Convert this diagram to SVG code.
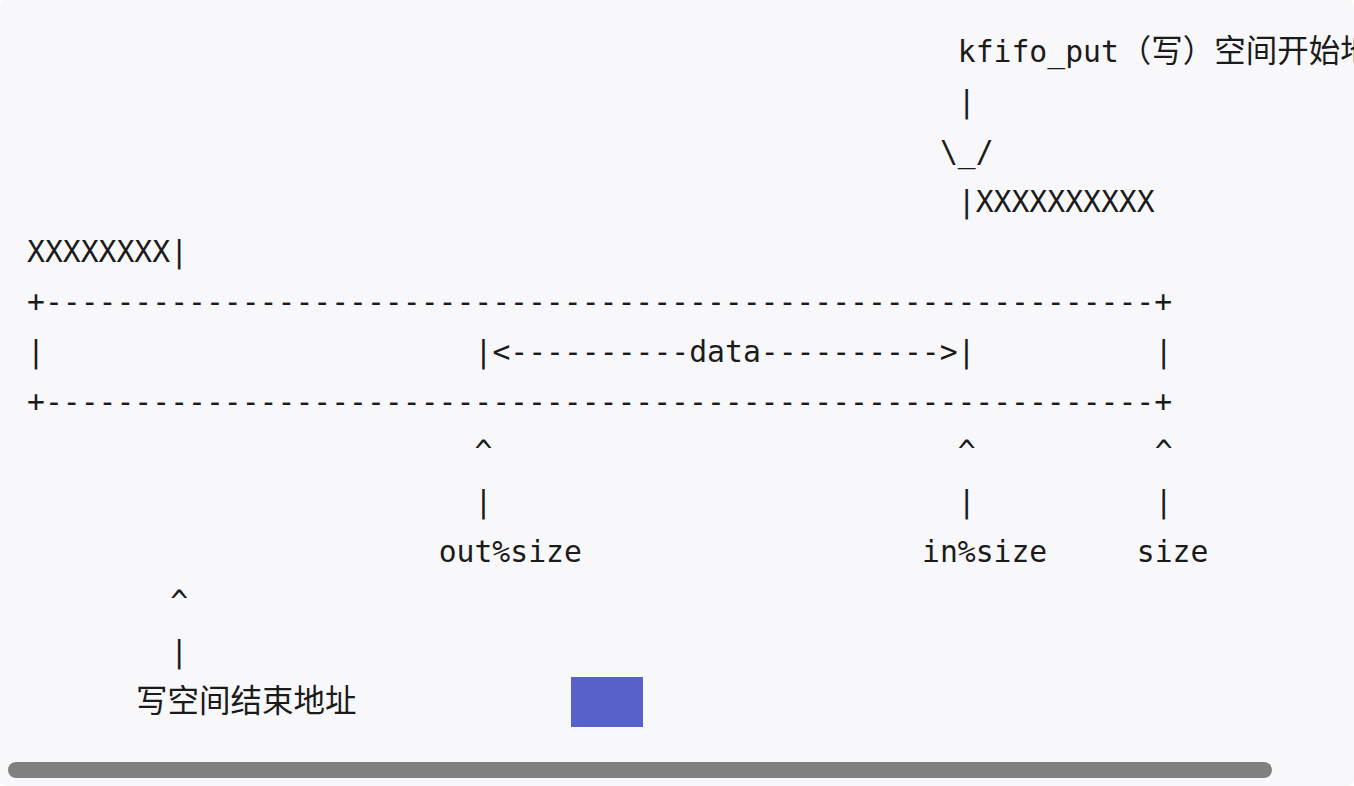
<svg xmlns="http://www.w3.org/2000/svg" width="1354" height="786" viewBox="0 0 1354 786">
  <style>
    .m { font-family: "DejaVu Sans Mono", "Liberation Mono", monospace; font-size: 29.73px; fill: #1b1b1b; white-space: pre; }
    .c { font-family: "Noto Sans CJK SC", "Noto Sans", sans-serif; font-size: 31.5px; fill: #1b1b1b; }
  </style>
  <rect x="0" y="0" width="1354" height="786" fill="#ffffff"/>
  <rect x="0" y="0" width="1354" height="786" rx="6" ry="6" fill="#f8f8fa"/>

  <g id="write-start-label">
    <text class="m" x="957.8" y="62">kfifo_put</text>
    <text class="c" x="1119.8" y="62">（写）空间开始地</text>
  </g>

  <g id="connectors">
    <text class="m" x="957.8" y="112">|</text>
    <text class="m" x="939.9" y="162">\_/</text>
    <text class="m" x="474.5" y="462">^</text>
    <text class="m" x="957.8" y="462">^</text>
    <text class="m" x="1154.7" y="462">^</text>
    <text class="m" x="474.5" y="512">|</text>
    <text class="m" x="957.8" y="512">|</text>
    <text class="m" x="1154.7" y="512">|</text>
    <text class="m" x="170.2" y="612">^</text>
    <text class="m" x="170.2" y="662">|</text>
  </g>

  <g id="write-space-top">
    <text class="m" x="957.8" y="212">|XXXXXXXXXX</text>
  </g>

  <g id="write-space-bottom">
    <text class="m" x="27" y="262">XXXXXXXX|</text>
  </g>

  <g id="buffer">
    <text class="m" x="27" y="312">+--------------------------------------------------------------+</text>
    <text class="m" x="27" y="362">|</text>
    <text class="m" x="474.5" y="362">|&lt;----------data----------&gt;|</text>
    <text class="m" x="1154.7" y="362">|</text>
    <text class="m" x="27" y="412">+--------------------------------------------------------------+</text>
  </g>

  <g id="out-label">
    <text class="m" x="438.7" y="562">out%size</text>
  </g>
  <g id="in-label">
    <text class="m" x="922" y="562">in%size</text>
  </g>
  <g id="size-label">
    <text class="m" x="1136.8" y="562">size</text>
  </g>

  <g id="write-end-label">
    <text class="c" x="136" y="712">写空间结束地址</text>
  </g>

  <g id="marker-square">
    <rect x="571" y="677" width="72" height="50" fill="#5662c9"/>
  </g>

  <g id="scrollbar">
    <rect x="8" y="762" width="1264" height="16" rx="8" ry="8" fill="#808080"/>
  </g>
</svg>
